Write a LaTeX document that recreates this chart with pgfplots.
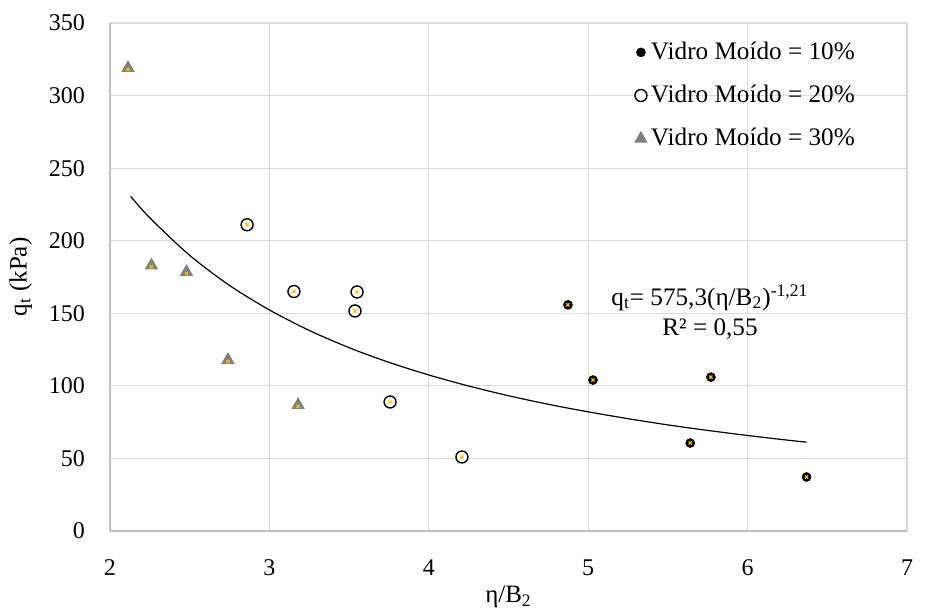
\documentclass[border=0pt]{standalone}
\usepackage{fontspec}
\setmainfont{Liberation Serif}
\usepackage{pgfplots}
\pgfplotsset{compat=1.18}
\definecolor{gridc}{HTML}{D9D9D9}
\definecolor{axc}{HTML}{BFBFBF}
\definecolor{gold}{HTML}{FFC000}
\definecolor{trigray}{HTML}{808080}
\begin{document}
\begin{tikzpicture}
\useasboundingbox (-55pt,-39.5pt) rectangle (416pt,265.5pt);
\begin{axis}[
  at={(0,0)}, anchor=south west,
  scale only axis, width=398.5pt, height=254pt,
  xmin=2, xmax=7, ymin=0, ymax=350,
  xtick={2,3,4,5,6,7}, ytick={0,50,100,150,200,250,300,350},
  grid=major, major grid style={gridc, line width=0.6pt},
  axis x line*=bottom, axis y line*=left,
  axis line style={axc, line width=0.8pt, -},
  tick style={draw=none},
  /pgf/number format/assume math mode=true,
  ticklabel style={font=\fontsize{12}{14}\selectfont},
  xticklabel style={yshift=-11pt},
  yticklabel style={xshift=-9pt},
  xlabel={η/B\textsubscript{2}},
  ylabel={q\textsubscript{t} (kPa)},
  label style={font=\fontsize{12.5}{14}\selectfont},
  xlabel style={at={(axis description cs:0.5,-0.13)}, anchor=center},
  ylabel style={at={(axis description cs:-0.112,0.5)}, anchor=center, rotate=0},
  legend style={draw=none, fill=none, at={(rel axis cs:0.94,0.971)}, anchor=north east,
    font=\fontsize{12.6}{15}\selectfont, row sep=7.3pt, inner sep=0pt},
  legend cell align=left,
  legend image code/.code={\draw[#1] plot coordinates {(0.15cm,0cm)};},
]
% Vidro Moído = 10%
\addplot[only marks, mark=*, mark size=2.2pt, draw=black, fill=black] coordinates {
  (4.873,155.8) (5.03,104) (5.77,106) (5.64,60.6) (6.37,37.2)};
\addlegendentry{Vidro Moído = 10\%}
% Vidro Moído = 20%
\addplot[only marks, mark=*, mark size=3pt, draw=black, fill=white, mark options={line width=0.7pt}] coordinates {
  (2.86,211) (3.154,165) (3.55,164.7) (3.537,151.6) (3.757,88.9) (4.208,51)};
\addlegendentry{Vidro Moído = 20\%}
% Vidro Moído = 30%
\addplot[only marks, mark=triangle*, mark size=3.5pt, draw=trigray, fill=trigray] coordinates {
  (2.113,319) (2.26,183) (2.48,178.5) (2.74,117.8) (3.18,86.8)};
\addlegendentry{Vidro Moído = 30\%}
% gold crosses inside markers
\addplot[forget plot, only marks, mark=x, mark size=1.1pt, draw=gold, line width=0.6pt] coordinates {
  (4.873,155.8) (5.03,104) (5.77,106) (5.64,60.6) (6.37,37.2)
  (2.86,211) (3.154,165) (3.55,164.7) (3.537,151.6) (3.757,88.9) (4.208,51)};
\addplot[forget plot, only marks, mark=x, mark size=1.1pt, draw=gold, line width=0.6pt] coordinates {
  (2.113,318) (2.26,182) (2.48,177.5) (2.74,116.8) (3.18,85.8)};
% power trendline q = 575.3 x^-1.21
\addplot[forget plot, black, line width=0.6pt, smooth] coordinates {
  (2.13,230.5) (2.25,215.7) (2.5,189.9) (2.75,169.2) (3,152.3) (3.25,138.2)
  (3.5,126.3) (3.75,116.2) (4,107.5) (4.25,99.9) (4.5,93.2) (4.75,87.3)
  (5,82.1) (5.25,77.4) (5.5,73.1) (5.75,69.3) (6,65.8) (6.25,62.6) (6.37,61.2)};
\node[font=\fontsize{12.6}{15}\selectfont, align=center] at (axis cs:5.764,151)
  {q\textsubscript{t}= 575,3(η/B\textsubscript{2})\textsuperscript{-1,21}\\R² = 0,55};
\end{axis}
\end{tikzpicture}
\end{document}
